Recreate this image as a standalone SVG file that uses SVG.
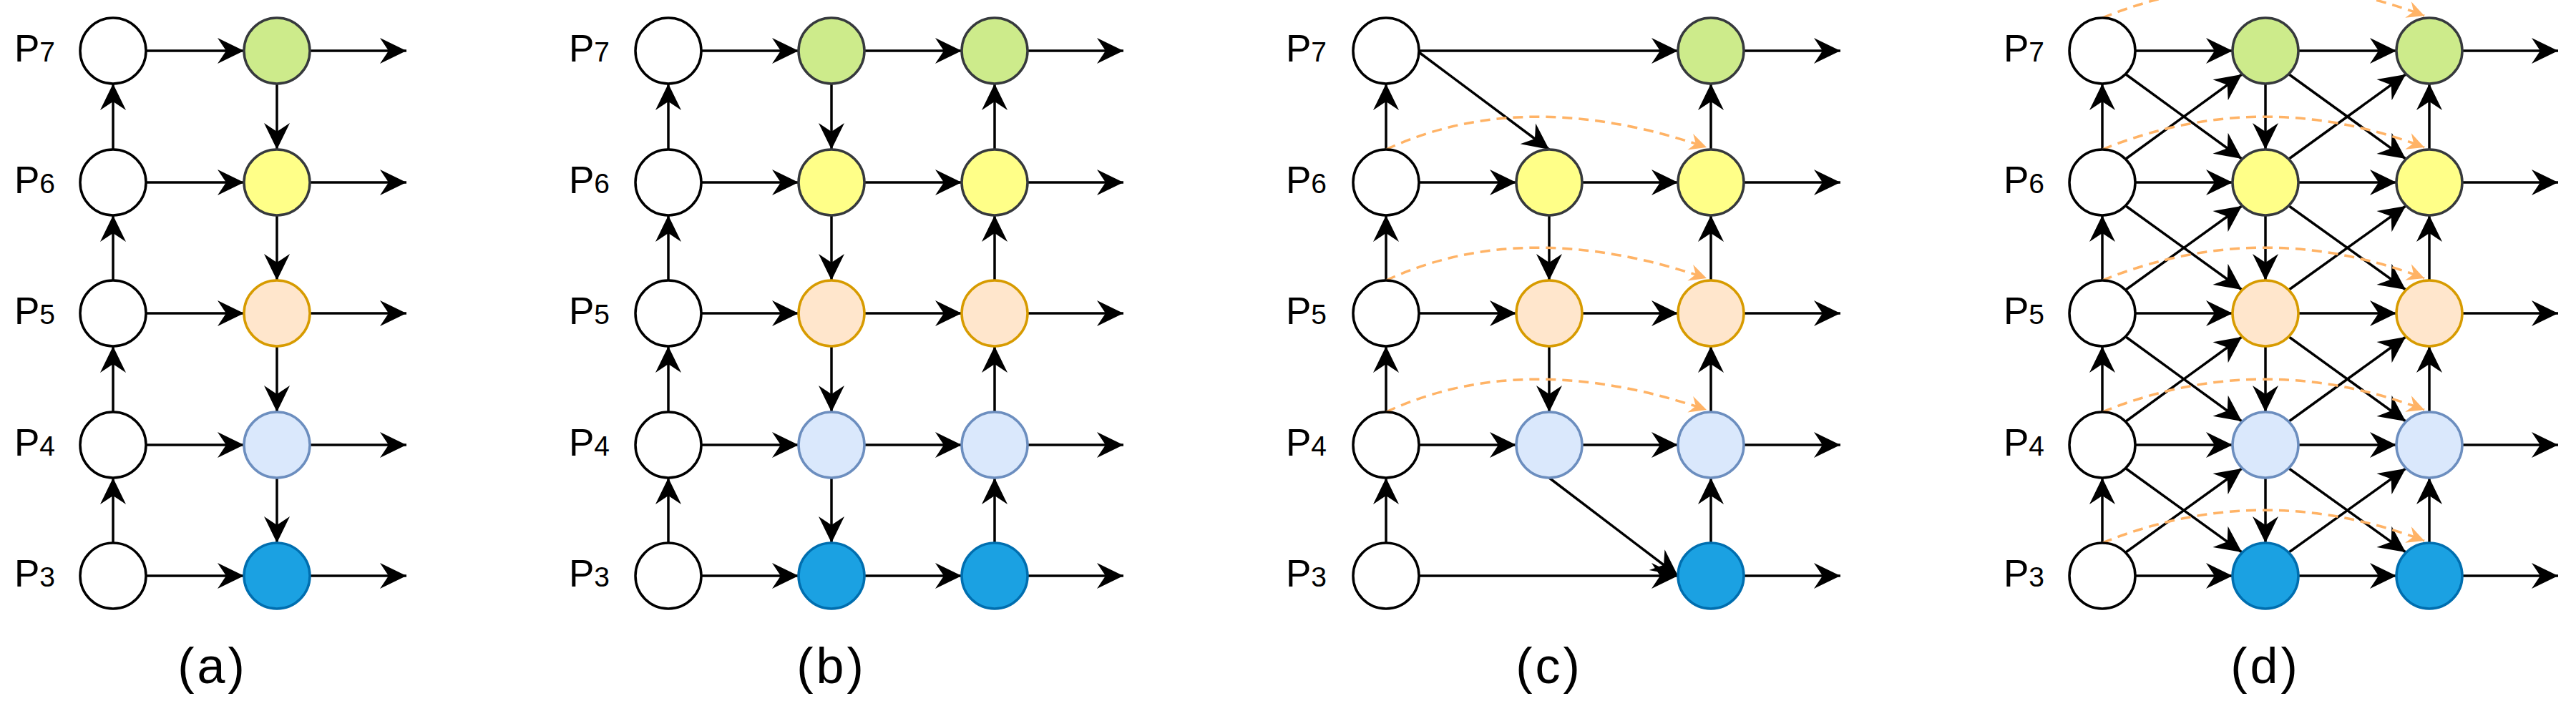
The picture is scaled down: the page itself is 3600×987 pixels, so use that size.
<svg xmlns="http://www.w3.org/2000/svg" width="3600" height="987" viewBox="0 0 3600 987">
<style>
.c line,.c path{stroke:#000;stroke-width:3.5;fill:none}
.c .a{marker-end:url(#ah)}
.c path.d{stroke:#ffb366;stroke-dasharray:14 9;marker-end:url(#oh)}
.w{fill:#fff;stroke:#000;stroke-width:3.5}
.g{fill:#cdeb8b;stroke:#36393d;stroke-width:3.5}
.y{fill:#ffff88;stroke:#36393d;stroke-width:3.5}
.o{fill:#ffe6cc;stroke:#d79b00;stroke-width:3.5}
.l{fill:#dae8fc;stroke:#6c8ebf;stroke-width:3.5}
.b{fill:#1ba1e2;stroke:#006eaf;stroke-width:3.5}
text{font-family:"Liberation Sans",Arial,sans-serif;fill:#000}
.p{font-size:53px}
.p tspan{font-size:39px}
.t{font-size:70px;text-anchor:middle;letter-spacing:4px}
</style>
<defs>
<marker id="ah" markerUnits="userSpaceOnUse" markerWidth="44" markerHeight="44" viewBox="-40 -20 44 40" refX="0" refY="0" orient="auto"><path d="M-37,-18 L0,0 L-37,18 L-25,0 Z" fill="#000"/></marker>
<marker id="oh" markerUnits="userSpaceOnUse" markerWidth="30" markerHeight="30" viewBox="-26 -15 30 30" refX="0" refY="0" orient="auto"><path d="M-24,-12 L0,0 L-24,12 L-16,0 Z" fill="#ffb366"/></marker>
</defs>
<g id="connectors" class="c">
<!-- (a) -->
<line class="a" x1="204" y1="71" x2="341" y2="71"/><line class="a" x1="204" y1="255" x2="341" y2="255"/><line class="a" x1="204" y1="438" x2="341" y2="438"/><line class="a" x1="204" y1="622" x2="341" y2="622"/><line class="a" x1="204" y1="805" x2="341" y2="805"/>
<line class="a" x1="433" y1="71" x2="568" y2="71"/><line class="a" x1="433" y1="255" x2="568" y2="255"/><line class="a" x1="433" y1="438" x2="568" y2="438"/><line class="a" x1="433" y1="622" x2="568" y2="622"/><line class="a" x1="433" y1="805" x2="568" y2="805"/>
<line class="a" x1="158" y1="759" x2="158" y2="668"/><line class="a" x1="158" y1="576" x2="158" y2="484"/><line class="a" x1="158" y1="392" x2="158" y2="301"/><line class="a" x1="158" y1="209" x2="158" y2="117"/>
<line class="a" x1="387" y1="117" x2="387" y2="209"/><line class="a" x1="387" y1="301" x2="387" y2="392"/><line class="a" x1="387" y1="484" x2="387" y2="576"/><line class="a" x1="387" y1="668" x2="387" y2="759"/>
<!-- (b) -->
<line class="a" x1="980" y1="71" x2="1116" y2="71"/><line class="a" x1="980" y1="255" x2="1116" y2="255"/><line class="a" x1="980" y1="438" x2="1116" y2="438"/><line class="a" x1="980" y1="622" x2="1116" y2="622"/><line class="a" x1="980" y1="805" x2="1116" y2="805"/>
<line class="a" x1="1208" y1="71" x2="1344" y2="71"/><line class="a" x1="1208" y1="255" x2="1344" y2="255"/><line class="a" x1="1208" y1="438" x2="1344" y2="438"/><line class="a" x1="1208" y1="622" x2="1344" y2="622"/><line class="a" x1="1208" y1="805" x2="1344" y2="805"/>
<line class="a" x1="1436" y1="71" x2="1570" y2="71"/><line class="a" x1="1436" y1="255" x2="1570" y2="255"/><line class="a" x1="1436" y1="438" x2="1570" y2="438"/><line class="a" x1="1436" y1="622" x2="1570" y2="622"/><line class="a" x1="1436" y1="805" x2="1570" y2="805"/>
<line class="a" x1="934" y1="759" x2="934" y2="668"/><line class="a" x1="934" y1="576" x2="934" y2="484"/><line class="a" x1="934" y1="392" x2="934" y2="301"/><line class="a" x1="934" y1="209" x2="934" y2="117"/>
<line class="a" x1="1162" y1="117" x2="1162" y2="209"/><line class="a" x1="1162" y1="301" x2="1162" y2="392"/><line class="a" x1="1162" y1="484" x2="1162" y2="576"/><line class="a" x1="1162" y1="668" x2="1162" y2="759"/>
<line class="a" x1="1390" y1="759" x2="1390" y2="668"/><line class="a" x1="1390" y1="576" x2="1390" y2="484"/><line class="a" x1="1390" y1="392" x2="1390" y2="301"/><line class="a" x1="1390" y1="209" x2="1390" y2="117"/>
<!-- (c) -->
<line class="a" x1="1983" y1="71" x2="2345" y2="71"/><line class="a" x1="1983" y1="255" x2="2119" y2="255"/><line class="a" x1="1983" y1="438" x2="2119" y2="438"/><line class="a" x1="1983" y1="622" x2="2119" y2="622"/><line class="a" x1="1983" y1="805" x2="2345" y2="805"/>
<line class="a" x1="2211" y1="255" x2="2345" y2="255"/><line class="a" x1="2211" y1="438" x2="2345" y2="438"/><line class="a" x1="2211" y1="622" x2="2345" y2="622"/>
<line class="a" x1="2437" y1="71" x2="2572" y2="71"/><line class="a" x1="2437" y1="255" x2="2572" y2="255"/><line class="a" x1="2437" y1="438" x2="2572" y2="438"/><line class="a" x1="2437" y1="622" x2="2572" y2="622"/><line class="a" x1="2437" y1="805" x2="2572" y2="805"/>
<line class="a" x1="1937" y1="759" x2="1937" y2="668"/><line class="a" x1="1937" y1="576" x2="1937" y2="484"/><line class="a" x1="1937" y1="392" x2="1937" y2="301"/><line class="a" x1="1937" y1="209" x2="1937" y2="117"/>
<line class="a" x1="2165" y1="301" x2="2165" y2="392"/><line class="a" x1="2165" y1="484" x2="2165" y2="576"/>
<line class="a" x1="2391" y1="759" x2="2391" y2="668"/><line class="a" x1="2391" y1="576" x2="2391" y2="484"/><line class="a" x1="2391" y1="392" x2="2391" y2="301"/><line class="a" x1="2391" y1="209" x2="2391" y2="117"/>
<line class="a" x1="1983" y1="73" x2="2165" y2="209"/><line class="a" x1="2165" y1="668" x2="2345" y2="805"/>
<path class="d" d="M1937,209 Q2130,119 2385,206"/><path class="d" d="M1937,392 Q2130,302 2385,389"/><path class="d" d="M1937,576 Q2130,486 2385,573"/>
<!-- (d) -->
<line class="a" x1="2984" y1="71" x2="3120" y2="71"/><line class="a" x1="2984" y1="255" x2="3120" y2="255"/><line class="a" x1="2984" y1="438" x2="3120" y2="438"/><line class="a" x1="2984" y1="622" x2="3120" y2="622"/><line class="a" x1="2984" y1="805" x2="3120" y2="805"/>
<line class="a" x1="3212" y1="71" x2="3349" y2="71"/><line class="a" x1="3212" y1="255" x2="3349" y2="255"/><line class="a" x1="3212" y1="438" x2="3349" y2="438"/><line class="a" x1="3212" y1="622" x2="3349" y2="622"/><line class="a" x1="3212" y1="805" x2="3349" y2="805"/>
<line class="a" x1="3441" y1="71" x2="3575" y2="71"/><line class="a" x1="3441" y1="255" x2="3575" y2="255"/><line class="a" x1="3441" y1="438" x2="3575" y2="438"/><line class="a" x1="3441" y1="622" x2="3575" y2="622"/><line class="a" x1="3441" y1="805" x2="3575" y2="805"/>
<line class="a" x1="2938" y1="759" x2="2938" y2="668"/><line class="a" x1="2938" y1="576" x2="2938" y2="484"/><line class="a" x1="2938" y1="392" x2="2938" y2="301"/><line class="a" x1="2938" y1="209" x2="2938" y2="117"/>
<line class="a" x1="3166" y1="117" x2="3166" y2="209"/><line class="a" x1="3166" y1="301" x2="3166" y2="392"/><line class="a" x1="3166" y1="484" x2="3166" y2="576"/><line class="a" x1="3166" y1="668" x2="3166" y2="759"/>
<line class="a" x1="3395" y1="759" x2="3395" y2="668"/><line class="a" x1="3395" y1="576" x2="3395" y2="484"/><line class="a" x1="3395" y1="392" x2="3395" y2="301"/><line class="a" x1="3395" y1="209" x2="3395" y2="117"/>
<line class="a" x1="2971" y1="104" x2="3133" y2="222"/><line class="a" x1="2971" y1="288" x2="3133" y2="405"/><line class="a" x1="2971" y1="471" x2="3133" y2="589"/><line class="a" x1="2971" y1="655" x2="3133" y2="772"/>
<line class="a" x1="2971" y1="222" x2="3133" y2="104"/><line class="a" x1="2971" y1="405" x2="3133" y2="288"/><line class="a" x1="2971" y1="589" x2="3133" y2="471"/><line class="a" x1="2971" y1="772" x2="3133" y2="655"/>
<line class="a" x1="3199" y1="104" x2="3362" y2="222"/><line class="a" x1="3199" y1="288" x2="3362" y2="405"/><line class="a" x1="3199" y1="471" x2="3362" y2="589"/><line class="a" x1="3199" y1="655" x2="3362" y2="772"/>
<line class="a" x1="3199" y1="222" x2="3362" y2="104"/><line class="a" x1="3199" y1="405" x2="3362" y2="288"/><line class="a" x1="3199" y1="589" x2="3362" y2="471"/><line class="a" x1="3199" y1="772" x2="3362" y2="655"/>
<path class="d" d="M2938,25 Q3160,-65 3388,22"/><path class="d" d="M2938,209 Q3160,119 3388,206"/><path class="d" d="M2938,392 Q3160,302 3388,389"/><path class="d" d="M2938,576 Q3160,486 3388,573"/><path class="d" d="M2938,759 Q3160,669 3388,756"/>
</g>
<g id="labels">
<text class="p" x="20" y="86">P<tspan>7</tspan></text><text class="p" x="20" y="270">P<tspan>6</tspan></text><text class="p" x="20" y="453">P<tspan>5</tspan></text><text class="p" x="20" y="637">P<tspan>4</tspan></text><text class="p" x="20" y="820">P<tspan>3</tspan></text>
<text class="p" x="795" y="86">P<tspan>7</tspan></text><text class="p" x="795" y="270">P<tspan>6</tspan></text><text class="p" x="795" y="453">P<tspan>5</tspan></text><text class="p" x="795" y="637">P<tspan>4</tspan></text><text class="p" x="795" y="820">P<tspan>3</tspan></text>
<text class="p" x="1797" y="86">P<tspan>7</tspan></text><text class="p" x="1797" y="270">P<tspan>6</tspan></text><text class="p" x="1797" y="453">P<tspan>5</tspan></text><text class="p" x="1797" y="637">P<tspan>4</tspan></text><text class="p" x="1797" y="820">P<tspan>3</tspan></text>
<text class="p" x="2800" y="86">P<tspan>7</tspan></text><text class="p" x="2800" y="270">P<tspan>6</tspan></text><text class="p" x="2800" y="453">P<tspan>5</tspan></text><text class="p" x="2800" y="637">P<tspan>4</tspan></text><text class="p" x="2800" y="820">P<tspan>3</tspan></text>
<text class="t" x="297" y="955">(a)</text><text class="t" x="1162" y="955">(b)</text><text class="t" x="2165" y="955">(c)</text><text class="t" x="3166" y="955">(d)</text>
</g>
<g id="nodes-a">
<circle class="w" cx="158" cy="71" r="46"/><circle class="w" cx="158" cy="255" r="46"/><circle class="w" cx="158" cy="438" r="46"/><circle class="w" cx="158" cy="622" r="46"/><circle class="w" cx="158" cy="805" r="46"/>
<circle class="g" cx="387" cy="71" r="46"/><circle class="y" cx="387" cy="255" r="46"/><circle class="o" cx="387" cy="438" r="46"/><circle class="l" cx="387" cy="622" r="46"/><circle class="b" cx="387" cy="805" r="46"/>
</g>
<g id="nodes-b">
<circle class="w" cx="934" cy="71" r="46"/><circle class="w" cx="934" cy="255" r="46"/><circle class="w" cx="934" cy="438" r="46"/><circle class="w" cx="934" cy="622" r="46"/><circle class="w" cx="934" cy="805" r="46"/>
<circle class="g" cx="1162" cy="71" r="46"/><circle class="y" cx="1162" cy="255" r="46"/><circle class="o" cx="1162" cy="438" r="46"/><circle class="l" cx="1162" cy="622" r="46"/><circle class="b" cx="1162" cy="805" r="46"/>
<circle class="g" cx="1390" cy="71" r="46"/><circle class="y" cx="1390" cy="255" r="46"/><circle class="o" cx="1390" cy="438" r="46"/><circle class="l" cx="1390" cy="622" r="46"/><circle class="b" cx="1390" cy="805" r="46"/>
</g>
<g id="nodes-c">
<circle class="w" cx="1937" cy="71" r="46"/><circle class="w" cx="1937" cy="255" r="46"/><circle class="w" cx="1937" cy="438" r="46"/><circle class="w" cx="1937" cy="622" r="46"/><circle class="w" cx="1937" cy="805" r="46"/>
<circle class="y" cx="2165" cy="255" r="46"/><circle class="o" cx="2165" cy="438" r="46"/><circle class="l" cx="2165" cy="622" r="46"/>
<circle class="g" cx="2391" cy="71" r="46"/><circle class="y" cx="2391" cy="255" r="46"/><circle class="o" cx="2391" cy="438" r="46"/><circle class="l" cx="2391" cy="622" r="46"/><circle class="b" cx="2391" cy="805" r="46"/>
</g>
<g id="nodes-d">
<circle class="w" cx="2938" cy="71" r="46"/><circle class="w" cx="2938" cy="255" r="46"/><circle class="w" cx="2938" cy="438" r="46"/><circle class="w" cx="2938" cy="622" r="46"/><circle class="w" cx="2938" cy="805" r="46"/>
<circle class="g" cx="3166" cy="71" r="46"/><circle class="y" cx="3166" cy="255" r="46"/><circle class="o" cx="3166" cy="438" r="46"/><circle class="l" cx="3166" cy="622" r="46"/><circle class="b" cx="3166" cy="805" r="46"/>
<circle class="g" cx="3395" cy="71" r="46"/><circle class="y" cx="3395" cy="255" r="46"/><circle class="o" cx="3395" cy="438" r="46"/><circle class="l" cx="3395" cy="622" r="46"/><circle class="b" cx="3395" cy="805" r="46"/>
</g>
</svg>
